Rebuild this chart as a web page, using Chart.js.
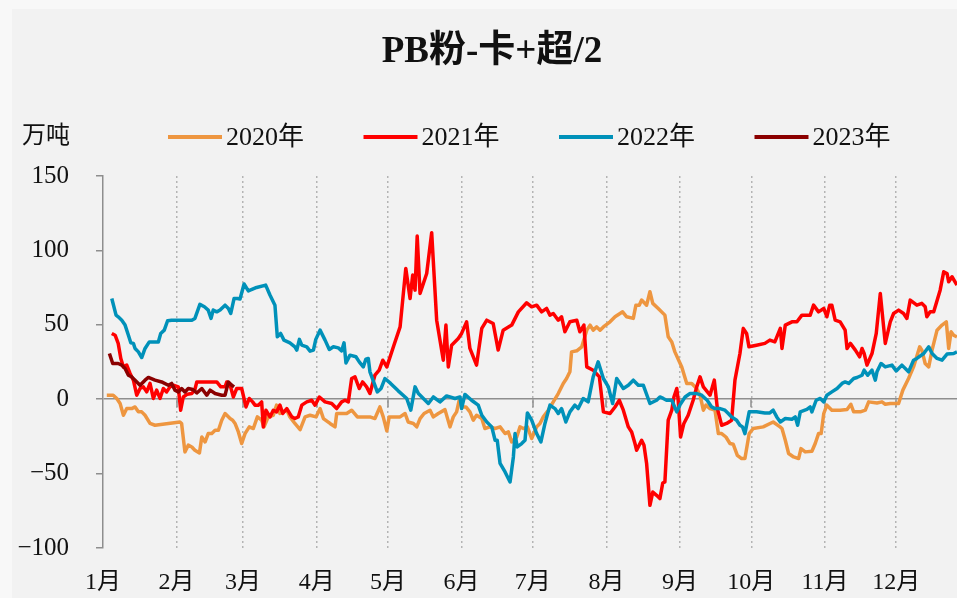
<!DOCTYPE html>
<html><head><meta charset="utf-8">
<script src="https://cdn.jsdelivr.net/npm/chart.js@4"></script>
<style>
html,body{margin:0;padding:0;background:#f8f8f8;overflow:hidden}
#wrap{position:absolute;left:0;top:0;width:957px;height:598px}
</style></head><body>
<div id="wrap"><canvas id="c" width="957" height="598"></canvas></div>
<script>
const titleText = 'PB粉-卡+超/2';
const unitText = '万吨';
const seriesLabels = ['2020年','2021年','2022年','2023年'];
const monthStarts = [0,31,59,90,120,151,181,212,243,273,304,334];
const monthLabels = ['1月','2月','3月','4月','5月','6月','7月','8月','9月','10月','11月','12月'];
const yTicks = [-100,-50,0,50,100,150];

const days2020 = [1.6,4.3,5.8,7.2,8.6,10,12.1,13.5,14.9,16.3,
17.7,19.8,21.9,32.4,33.1,34.5,35.9,37.4,38.7,40.6,
41.6,43,44.3,45.8,47.2,48.6,50,51.4,53.5,54.6,
55.6,57,58.4,59.8,61.6,63.3,65,66.8,67.8,69.6,
71.7,73.1,74.5,75.9,77.4,78.7,80.8,83,85.1,87.2,
89.7,91.4,92.8,95.6,97.7,98.4,100.5,102.6,104.7,107.1,
109.6,112.4,114.5,116.6,118,119.5,120.5,125.1,127.2,128.5,
130.7,132.1,133.5,135.2,137.7,139.1,141.2,144,146.1,147.5,
148.9,150,151.5,152.8,154.5,155.9,157.3,159.5,160.8,162.9,
165.1,167.2,169.3,170.7,172.1,174.2,175.6,177,178.7,180.5,
182.6,184,185.4,187.5,189.6,191.7,193.8,195.2,196.6,197.3,
199.5,201.6,203.7,205.1,206.4,207.9,209.3,210.7,213.5,215.6,
217.7,218.8,220.5,223.3,224.4,225.8,226.8,228.9,230.3,231.5,
233.8,236.6,238,239.5,240.8,243.7,245.8,247.9,250,251.4,
252.8,253.9,255.6,257.7,259.1,260.5,262.3,264,265.4,267.1,
268.9,270.3,272.1,273.8,278,282.2,285.1,285.9,287.3,288.7,
290.8,292.9,293.9,295.7,298.5,299.9,301.3,302.4,303.5,304.8,
306.9,310.4,313.3,314.9,316.1,318.9,321,322.4,325.9,328,
329.4,331.5,335,336.8,339.2,341.3,343.9,344.8,346.2,347.7,
349.1,351.2,353.3,355.1,356.1,357.1,358.2,359.6];
const vals2020 = [2.7,2.7,0.5,-2.9,-10.8,-6.3,-6.3,-5.2,-8.5,-8.5,
-10.8,-16.3,-17.5,-15.3,-16.3,-35.4,-30.9,-32.1,-34.3,-36.1,
-25.4,-28.7,-23.1,-23.1,-20.9,-20.9,-14.1,-9.6,-13,-14.1,
-16.3,-22,-29.8,-23.1,-18.6,-19.7,-11.9,-14.1,-18.6,-11.9,
-10.8,-4,-9.6,-8.5,-7.4,-11.9,-16.3,-20.4,-11.9,-10.8,
-11.9,-6.3,-13,-16.3,-18.6,-9.6,-9.6,-9.6,-7.4,-11.9,
-11.9,-11.9,-13,-5.2,-11.9,-21.3,-11.9,-11.9,-9.6,-15.3,
-16.3,-18.6,-13,-9.6,-7.4,-11.9,-9.6,-7,-18.6,-11.9,
-8.5,-0.7,-5.2,-5.2,-8.5,-14.1,-10.8,-13,-19.7,-18.6,
-19.7,-18.6,-23.1,-22,-28.7,-25.4,-18.6,-19.7,-18.6,-26.4,
-18.6,-16.3,-11.9,-7.4,-1.8,3.8,10.6,13.9,18.4,31.8,
32.5,35.2,46.4,49.8,46.4,48.6,46.4,48.6,52,55.4,
57.6,58.7,55.4,54.3,63.2,63.2,66.6,63.2,72.2,64.4,
61,56.5,41.9,38.5,31.8,21.7,10.6,10.6,7.2,2.7,
-7.4,-4,-6.3,-7.4,-23.1,-23.1,-25.4,-29.8,-30.3,-37.7,
-39.9,-39.9,-23.1,-19.7,-18.6,-15.3,-18.6,-19.7,-27.6,-36.5,
-38.8,-39.9,-33.2,-35.4,-35,-29.8,-23.1,-23.1,-9.6,-4,
-7.4,-7.4,-6.9,-3.4,-8.5,-8.5,-7.4,-1.8,-2.5,-1.8,
-3.4,-2.9,-2.9,6.1,13.9,21.7,35.2,33,24,21.7,
33,46.4,49.8,52,34.1,45.3,43,41.9];

const days2021 = [3.7,5.1,6.4,7.5,8.6,10,11.4,12.8,14.2,15.6,
17,18.4,19.8,21.2,22.6,24,25.4,26.8,28.2,29.6,
31.7,32.7,33.8,35.5,37.4,38.7,39.5,42.2,47.9,49.6,
51.4,52.1,53.8,54.9,56.3,58.4,60.2,61.6,63,64,
65.4,66.8,67.5,68.6,70.3,71.7,73.1,74.5,75.7,77.4,
79.5,80.8,82.2,83.7,85.8,87.9,89.3,91.1,93.5,96.3,
98.4,100.5,101.9,103.3,104.7,106.1,107.9,109.3,111,112.4,
114.5,116.3,117.8,119.5,122.5,125.1,127.5,129.3,130.4,131.4,
132.3,133.5,136.3,138.4,140.5,143.3,144.4,145.4,146.8,149.6,
151,153.1,154.5,157.3,159.5,161.6,164.3,166.4,168.5,172.1,
174.9,178.4,180.5,182.6,184.7,186.8,188.2,189.6,191.7,193.1,
194.5,196.6,199.5,200.8,202.5,203.7,206.4,209,210.7,213.5,
215.6,217.4,219.1,221.2,222.6,224,224.7,226.8,227.8,228.9,
230.3,231.5,233.1,234.5,235.7,236.6,238,239.5,240.4,241.6,
242.2,243.2,244.6,246.4,248.5,250,251.4,252.8,255.6,257.4,
258.7,260.5,262.6,264.7,266.1,268.2,269.6,271,272,275.2,
278.7,280.8,282.9,285.2,285.9,287.3,290.1,292.2,294.3,297.8,
299.2,301.3,303.5,304.8,306,306.9,308.3,310.4,312.5,313.3,
314.7,316.8,318.6,319.6,320.5,321.7,323.8,325.6,327.3,328.7,
329.4,331.5,332.9,335,337.1,338.5,339.9,342.7,344.8,346.2,
346.9,348.3,349.8,352.5,354,355.4,356.1,357.5,359.6];
const vals2021 = [44.2,43,37.5,27.4,21.7,22.9,17.3,12.8,2.7,7.2,
8.3,4.9,10.6,0.5,6.1,0.5,7.2,4.9,8.3,9.4,
8.3,-7.4,1.5,3.4,3.8,6.5,11.6,11.6,11.6,8.3,
8.3,11.6,7.9,1.5,7.2,7.2,-5.2,0.5,-1.8,-4,
-4,-1.8,-18.6,-7.4,-11.9,-7.4,-8.5,-4,-9.6,-6.3,
-11.9,-13,-11.9,-4,-1.8,-0.7,-4,1.5,-1.8,-2.9,
-6.3,-1.8,-0.7,-1.8,13.9,15,7.2,11.6,8.3,3.8,
16.1,19.5,26.2,21.7,36.3,48.6,87.9,67.7,83.4,73.3,
109.6,71.1,84.5,111.9,53.1,26.2,49.8,21.7,36.3,40.8,
44.2,52,34.1,22.9,47.6,53.1,50.9,33,46.4,49.8,
58.7,64.8,62.1,63.2,58.7,61,56.5,57.6,53.1,55.4,
45.3,52,53.1,45.3,49.8,21.7,19.5,15,-8.5,-9.6,
-5.2,-0.7,-7.4,-18.6,-22,-29.8,-34.3,-27.6,-30.9,-43.2,
-71.3,-62.4,-64.6,-66.8,-56.3,-55.6,-14.1,-7.4,1.5,7.2,
-0.7,-25.4,-16.3,-10.8,-0.7,8.3,15,8.3,2.7,12.8,
-6.3,-17.5,-16.3,-14.1,12.8,30.7,47.6,44.2,35.2,36.3,
37.5,39.7,38.5,47.6,34.1,49.8,52,52,56.5,56.5,
63.2,58.7,61,55.4,63.2,63.2,53.1,52,46.4,34.1,
37.5,33,28.5,34.1,30.7,22.9,30.7,44.2,71.1,48.6,
37.5,52,57.6,59.9,57.6,54.3,66.6,63.2,64.4,62.1,
55.4,58.7,58.7,73.3,85.6,84.5,78.9,82.3,76.7];

const days2022 = [3.7,5.5,6.4,7.9,9.3,10.7,11.7,12.8,13.5,14.9,
16.3,17.7,19.5,21.2,23.3,24.3,25.8,27.2,28.9,33.1,
37.4,38.7,40.8,42.7,44.3,45.5,46.4,47.9,49.3,51.4,
52.8,53.8,55.2,56.6,57.7,59.4,61.2,64.7,68.5,70.3,
72.4,73.4,74.8,76.2,78.7,80.8,81.6,82.7,83.7,85.8,
87.2,88.6,89.6,91.4,93.5,95.3,97,99.1,100.5,101.5,
102.3,104,106.5,107.9,109.6,110.7,111.7,112.4,114.2,115.5,
117.1,118.7,121.1,124.3,127.9,129.6,131.4,132.8,134.9,137,
139.1,141.9,144.7,148.2,150.3,151,152.4,155.2,158,159.5,
161.6,163.7,165.1,166,167.2,169.3,171.4,172.8,173.5,174.4,
176.3,177.7,178.7,180.5,182.6,184.4,186.1,188.2,190.3,191.7,
193.1,194.9,196.6,198.7,200.1,202.2,204.3,206.4,208.5,210.7,
212.8,213.5,214.6,216.3,219.1,221.2,223.3,225.4,227.5,230.3,
233.1,234.5,235.9,237.3,239.5,241.6,242.9,245.1,247.2,250,
252.1,254.4,256.3,257.7,259.8,261.9,263.3,264.7,266.8,268.2,
269.3,270.3,272.1,275.2,278.7,280.8,282.2,283.7,285.2,287.3,
290.1,291.5,292.5,293.6,296.4,297.8,298.5,300.3,302,303.5,
304.8,306.9,309.1,311.2,312.5,314,316.1,317.5,319.6,320.5,
322,323.8,325.2,325.9,327.6,329.4,332.2,334,336.4,339.2,
341.3,342.7,345.6,347.7,349.1,351.2,353.3,355.4,358.2,359.6];
const vals2022 = [67.7,56.5,55.4,53.1,49.8,43,37.9,37.5,34.1,31.8,
28,34.1,38.5,38.5,38.5,44.2,46.4,52.7,53.1,53.1,
53.1,54.3,63.7,62.1,59.9,54.3,59.9,58.7,59.9,63.2,
61,57.6,67.7,67.7,67.3,77.4,72.8,75.1,76.7,70,
63.2,41.9,44.2,39.7,37.9,35.2,33,40.2,36.3,35.2,
32.3,33,40.2,46.4,39.7,33.4,35.2,34.5,32.5,37.9,
24.4,29.6,28.5,25.1,21.7,26.9,27.4,18.4,10.6,4.9,
7.2,13.9,10.6,5.6,0.5,-7.4,8.3,3.8,0.5,-2.9,
1.5,-1.8,2.2,0.5,1.5,-6.3,3.2,-0.7,-4,-10.8,
-15.3,-18.6,-27.6,-27.6,-43.2,-48.9,-55.6,-38.8,-23.1,-32.1,
-29.8,-27.6,-9.2,-14.1,-23.1,-28.7,-16.3,-4,-6.3,-9.6,
-6.3,-15.3,-8.5,-4,-6.3,0.5,-1.8,15,25.1,13.9,
8.3,3.8,-2.9,13.9,7.2,9.4,12.8,9.4,9.4,-2.9,
-0.7,1.5,0.5,-0.7,-0.7,-8.5,-4,1.5,3.8,3.8,
2.7,-0.7,-5.2,-6.3,-6.3,-7.4,-9.6,-11.9,-14.1,-17.5,
-18.6,-23.1,-8.5,-8.5,-9.2,-9.2,-7.4,-11.9,-15.3,-13,
-13.5,-11.9,-17.5,-8.5,-6.9,-5.2,-8.5,-0.7,0.5,-1.8,
2.7,4.9,7.2,10.6,11.6,10.6,13.9,14.6,16.1,19.5,
16.1,19.5,12.8,18.4,24,21.7,22.9,19,22.9,18.4,
26.2,27.4,30.7,35.2,30.7,27.4,26.2,30.3,30.7,31.8];

const days2023 = [2.7,4.1,6.4,7.9,9.3,10.7,12.1,13.5,15.6,17.7,
19.1,21.9,24.7,27.5,28.9,30.3,31.7,33.1,34.5,35.9,
37.8,39.5,41.6,43.7,45.1,47.2,50,51.4,52.8,54.2,55.2];
const vals2023 = [30.7,24,24,22.9,20.6,16.1,15,12.8,9.4,12.8,
14.6,12.8,11.6,9.4,10.6,6.1,4.9,7.2,4.9,7.2,
6.5,4.2,7.2,2.7,6.1,3.8,2.7,2.7,11.6,9.4,8.3];

const seriesColors = ['#EE9640','#FF0000','#0091B9','#8B0000'];

function pts(d, v){ return d.map((x,i)=>({x:x, y:v[i]})); }

const axisGray = '#8e8e8e';
const numFont = "'Liberation Serif','Noto Sans CJK SC',serif";

const bgPlugin = {
  id:'bg',
  beforeDraw(chart){
    const {ctx,width,height} = chart;
    ctx.save();
    ctx.fillStyle = '#f8f8f8'; ctx.fillRect(0,0,width,height);
    ctx.fillStyle = '#f2f2f2'; ctx.fillRect(12,9,width-12,height-9);
    ctx.restore();
  }
};

const zeroTickPlugin = {
  id:'zeroTicks',
  beforeDatasetsDraw(chart){
    const {ctx} = chart, xs = chart.scales.x, ys = chart.scales.y;
    const y0 = ys.getPixelForValue(0);
    ctx.save();
    ctx.strokeStyle = axisGray; ctx.lineWidth = 1.5;
    ctx.beginPath();
    monthStarts.slice(1).forEach(d=>{
      const px = Math.round(xs.getPixelForValue(d));
      ctx.moveTo(px, y0); ctx.lineTo(px, y0+8);
    });
    ctx.stroke();
    ctx.restore();
  }
};

const headerPlugin = {
  id:'header',
  afterDraw(chart){
    const ctx = chart.ctx;
    ctx.save();
    ctx.fillStyle = '#111';
    ctx.textBaseline = 'middle';
    ctx.textAlign = 'center';
    ctx.font = "bold 37px " + numFont;
    ctx.fillText(titleText, 492, 52);
    ctx.textAlign = 'left';
    ctx.font = "24px 'Noto Sans CJK SC',serif";
    ctx.fillText(unitText, 22, 134);
    ctx.font = "26px " + numFont;
    chart.data.datasets.forEach((ds,i)=>{
      const x = 168 + i*195.5;
      ctx.strokeStyle = ds.borderColor; ctx.lineWidth = 4;
      ctx.beginPath(); ctx.moveTo(x,137); ctx.lineTo(x+54,137); ctx.stroke();
      ctx.fillStyle = '#111';
      ctx.fillText(ds.label, x+58, 138);
    });
    ctx.restore();
  }
};

const dayArrays = [days2020, days2021, days2022, days2023];
const valArrays = [vals2020, vals2021, vals2022, vals2023];

new Chart(document.getElementById('c'), {
  type:'line',
  data:{
    datasets: seriesLabels.map((lab,i)=>({
      label: lab,
      data: pts(dayArrays[i], valArrays[i]),
      borderColor: seriesColors[i],
      backgroundColor: seriesColors[i],
      borderWidth: 3.5,
      pointRadius: 0,
      tension: 0,
      borderJoinStyle: 'round',
      order: 3 - i
    }))
  },
  options:{
    responsive:false,
    animation:false,
    devicePixelRatio:1,
    layout:{padding:{top:176,left:0,right:0,bottom:0}},
    plugins:{legend:{display:false}, title:{display:false}, tooltip:{enabled:false}},
    scales:{
      x:{
        type:'linear', min:0, max:359.6,
        afterBuildTicks: s => { s.ticks = monthStarts.map(v=>({value:v})); },
        afterFit: s => { s.height = 50; },
        ticks:{autoSkip:false, maxRotation:0, minRotation:0, padding:20,
          font:{family:numFont, size:24}, color:'#111',
          callback:(v,i)=>monthLabels[i]},
        grid:{drawTicks:false, lineWidth:1.5,
          color: c => (c.tick && c.tick.value===0) ? 'rgba(0,0,0,0)' : '#b4b4b4'},
        border:{display:false, dash:[2,3]}
      },
      y:{
        min:-100, max:150,
        afterBuildTicks: s => { s.ticks = yTicks.map(v=>({value:v})); },
        afterFit: s => { s.width = 103; },
        ticks:{padding:27, font:{family:numFont, size:25}, color:'#111',
          callback: v => String(v).replace('-', '\u2212')},
        grid:{lineWidth:1.5, tickLength:7, tickColor:axisGray,
          color: c => (c.tick && c.tick.value===0) ? axisGray : 'rgba(0,0,0,0)'},
        border:{display:true, color:axisGray, width:1.5}
      }
    }
  },
  plugins:[bgPlugin, zeroTickPlugin, headerPlugin]
});
</script>
</body></html>
